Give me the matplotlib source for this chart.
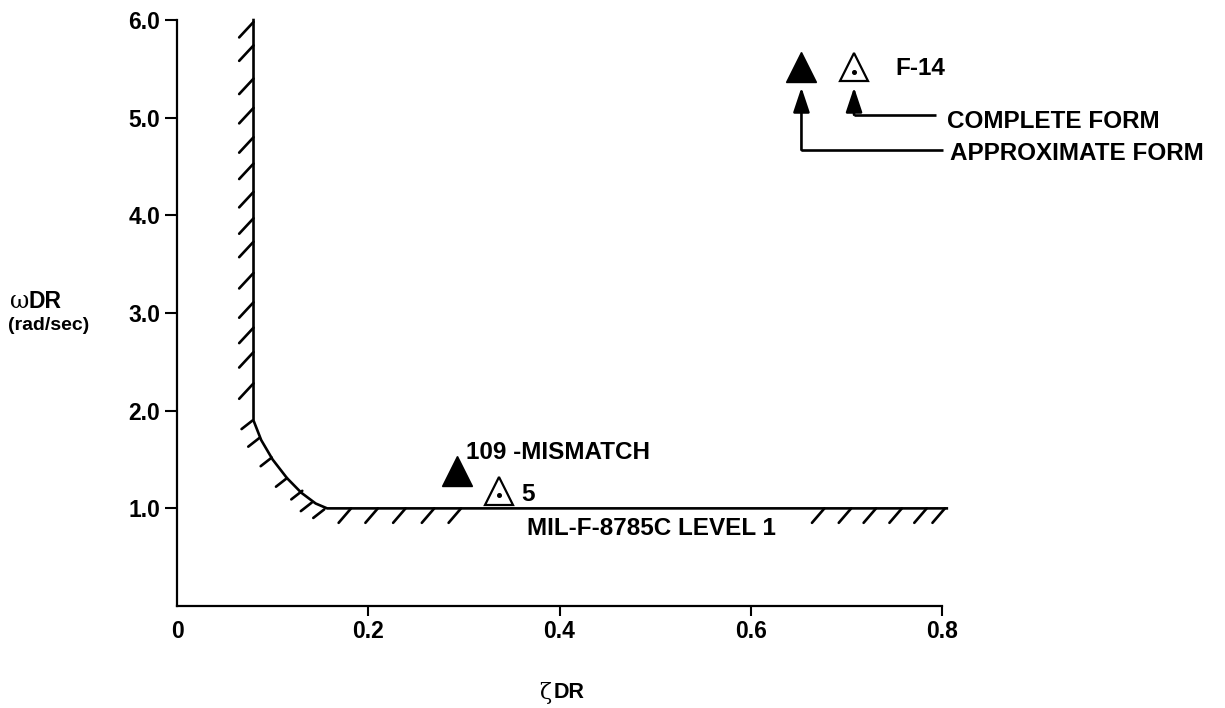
import matplotlib
matplotlib.use('Agg')
import matplotlib.pyplot as plt
from matplotlib.transforms import offset_copy

plt.rcParams['font.family'] = ['Liberation Sans', 'DejaVu Sans']

# ---------------- data ----------------
# MIL-F-8785C level 1 boundary (zeta_DR, omega_DR)
boundary_zeta = [0.08, 0.08, 0.088, 0.10, 0.115, 0.13, 0.145, 0.157, 0.805]
boundary_omega = [6.0, 1.90, 1.70, 1.50, 1.31, 1.16, 1.05, 1.0, 1.0]

# hatch contact points along boundary
vert_hatch_omega = [5.98, 5.74, 5.40, 5.10, 4.80, 4.53, 4.24, 3.97, 3.73,
                    3.41, 3.11, 2.85, 2.60, 2.28]
curve_hatch_zeta = [0.079, 0.086, 0.099, 0.115, 0.131, 0.141, 0.154]
curve_hatch_omega = [1.90, 1.72, 1.52, 1.31, 1.18, 1.06, 0.99]
horiz_hatch_zeta = [0.182, 0.210, 0.239, 0.269, 0.297,
                    0.677, 0.705, 0.731, 0.758, 0.784, 0.803]

# points: approximate form (filled) and complete form (open with dot)
approx_zeta = [0.653, 0.293]
approx_omega = [5.52, 1.38]
complete_zeta = [0.708, 0.337]
complete_omega = [5.52, 1.18]

x_ticks = [0, 0.2, 0.4, 0.6, 0.8]
x_tick_labels = ['0', '0.2', '0.4', '0.6', '0.8']
y_ticks = [1, 2, 3, 4, 5, 6]
y_tick_labels = ['1.0', '2.0', '3.0', '4.0', '5.0', '6.0']

# ---------------- figure ----------------
fig = plt.figure(figsize=(12.25, 7.08), dpi=100)
ax = fig.add_axes([0.1445, 0.144, 0.6245, 0.8277])
ax.set_xlim(0, 0.8)
ax.set_ylim(0, 6)

for s in ['top', 'right']:
    ax.spines[s].set_visible(False)
for s in ['left', 'bottom']:
    ax.spines[s].set_linewidth(1.6)

FS_TICK = 16.5
FS_TXT = 17.5
ax.set_xticks(x_ticks)
ax.set_xticklabels(x_tick_labels, fontsize=FS_TICK, fontweight='bold')
ax.set_yticks(y_ticks)
ax.set_yticklabels(y_tick_labels, fontsize=FS_TICK, fontweight='bold')
ax.tick_params(axis='y', direction='out', length=8.5, width=1.5, pad=3.5)
ax.tick_params(axis='x', direction='out', length=7, width=1.5, pad=3)
ax.xaxis.get_major_ticks()[0].tick1line.set_visible(False)

LW = 1.9
# boundary
ax.plot(boundary_zeta, boundary_omega, color='black', lw=LW, clip_on=False,
        solid_joinstyle='round')

# hatches
vdx, vdy = -0.0150, -0.158
for w in vert_hatch_omega:
    ax.plot([boundary_zeta[0], boundary_zeta[0] + vdx], [w, w + vdy],
            color='black', lw=LW, clip_on=False, solid_capstyle='round')
cdx, cdy = -0.0115, -0.088
for z, w in zip(curve_hatch_zeta, curve_hatch_omega):
    ax.plot([z, z + cdx], [w, w + cdy], color='black', lw=LW, clip_on=False,
            solid_capstyle='round')
hdx, hdy = -0.0130, -0.148
for z in horiz_hatch_zeta:
    ax.plot([z, z + hdx], [1.0, 1.0 + hdy], color='black', lw=LW, clip_on=False,
            solid_capstyle='round')

# markers
MS = 21
ax.plot(approx_zeta, approx_omega, linestyle='none', marker='^', ms=MS,
        color='black', clip_on=False)
ax.plot(complete_zeta, complete_omega, linestyle='none', marker='^', ms=MS - 1,
        markerfacecolor='white', markeredgecolor='black', markeredgewidth=1.6,
        clip_on=False)
dot_tr = offset_copy(ax.transData, fig=fig, x=0, y=-(MS - 1) / 6.0, units='points')
ax.plot(complete_zeta, complete_omega, linestyle='none', marker='o', ms=2.6,
        color='black', transform=dot_tr, clip_on=False)

# arrows to legend labels
arrow_tip_omega = 5.31
approx_corner = (approx_zeta[0], 4.67, 0.801)
complete_corner = (complete_zeta[0], 5.03, 0.794)
for (zx, wy, xend) in [approx_corner, complete_corner]:
    ax.annotate('', xy=(zx, arrow_tip_omega), xytext=(zx, wy),
                arrowprops=dict(arrowstyle='-|>,head_length=0.75,head_width=0.25',
                                lw=LW, color='black', mutation_scale=20,
                                shrinkA=0, shrinkB=0, joinstyle='round'),
                annotation_clip=False)
    ax.plot([zx, xend], [wy, wy], color='black', lw=LW, clip_on=False,
            solid_capstyle='butt')

# texts
tk = dict(fontsize=FS_TXT, fontweight='bold', va='center', ha='left')
ax.text(0.751, 5.50, 'F-14', **tk)
ax.text(0.805, 4.96, 'COMPLETE FORM', **tk)
ax.text(0.808, 4.63, 'APPROXIMATE FORM', **tk)
ax.text(0.3026, 1.57, '109 -MISMATCH', **tk)
ax.text(0.360, 1.14, '5', **tk)
ax.text(0.3665, 0.79, 'MIL-F-8785C LEVEL 1', **tk)

# axis labels
fig.text(10 / 1225, 1 - 302 / 708, '\u03c9', fontsize=17, family='DejaVu Serif',
         va='center', ha='left')
fig.text(28 / 1225, 1 - 302 / 708, 'DR', fontsize=16.5, fontweight='bold',
         va='center', ha='left')
fig.text(8 / 1225, 1 - 326 / 708, '(rad/sec)', fontsize=14, fontweight='bold',
         va='center', ha='left')
fig.text(539 / 1225, 1 - 693 / 708, '\u03b6', fontsize=16, family='DejaVu Serif',
         va='center', ha='left')
fig.text(554 / 1225, 1 - 693 / 708, 'DR', fontsize=15.5, fontweight='bold',
         va='center', ha='left')

fig.savefig('out.png', dpi=100, facecolor='white')
